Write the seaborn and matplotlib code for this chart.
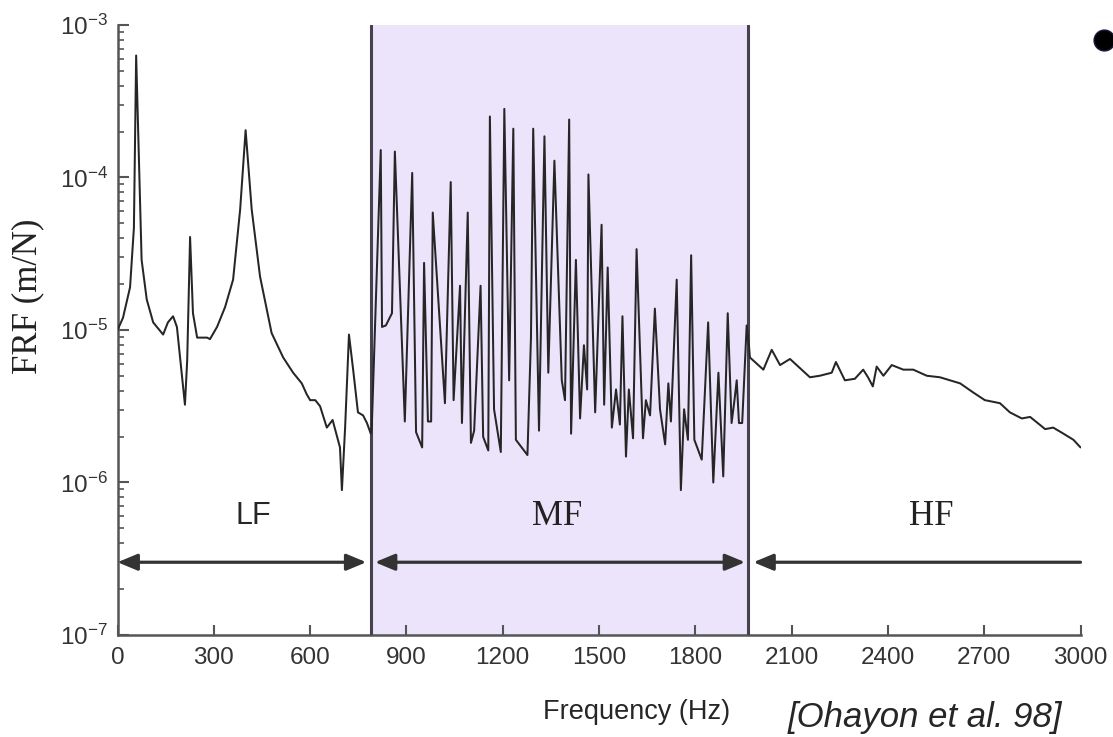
"""
FRF over frequency with LF / MF / HF bands (after Ohayon et al. 98).
"""

import numpy as np
import pandas as pd
import matplotlib
matplotlib.use("Agg")
import matplotlib.pyplot as plt
from matplotlib.lines import Line2D
from matplotlib.ticker import LogLocator, NullFormatter, FixedLocator
import seaborn as sns

# frequency (Hz) and log10 of FRF (m/N)
lf_freq = [0, 17, 39, 51, 58, 75, 91, 111, 142, 157, 173, 185, 201, 210, 217, 226,
           235, 248, 279, 288, 310, 335, 360, 382, 399, 418, 444, 480, 516, 547,
           574, 589, 600, 616, 631, 652, 670, 693, 699, 709, 721, 734, 749, 765,
           777, 789]
lf_exp = [-5.00, -4.92, -4.72, -4.33, -3.20, -4.54, -4.80, -4.95, -5.03, -4.95,
          -4.91, -4.98, -5.31, -5.49, -5.20, -4.39, -4.89, -5.05, -5.05, -5.06,
          -4.98, -4.85, -4.67, -4.21, -3.69, -4.21, -4.65, -5.02, -5.18, -5.28,
          -5.35, -5.42, -5.46, -5.46, -5.50, -5.64, -5.59, -5.77, -6.05, -5.64,
          -5.03, -5.26, -5.54, -5.56, -5.61, -5.68]

mf_freq = [792, 820, 824, 836, 855, 864, 895, 918, 930, 949, 955, 967, 977, 982,
           1020, 1038, 1047, 1067, 1073, 1091, 1101, 1111, 1131, 1139, 1155, 1160,
           1173, 1194, 1205, 1220, 1233, 1241, 1277, 1288, 1295, 1313, 1330, 1342,
           1361, 1384, 1394, 1407, 1413, 1428, 1441, 1453, 1463, 1467, 1488, 1508,
           1516, 1527, 1540, 1553, 1565, 1573, 1584, 1593, 1606, 1617, 1637, 1646,
           1659, 1674, 1690, 1706, 1716, 1724, 1742, 1755, 1765, 1777, 1787, 1797,
           1820, 1840, 1856, 1872, 1887, 1901, 1913, 1922, 1929, 1936, 1946, 1960,
           1967]
mf_exp = [-5.64, -3.82, -4.98, -4.97, -4.89, -3.83, -5.60, -3.97, -5.67, -5.77,
          -4.56, -5.60, -5.60, -4.23, -5.48, -4.03, -5.46, -4.71, -5.61, -4.23,
          -5.74, -5.66, -4.71, -5.70, -5.79, -3.60, -5.52, -5.80, -3.55, -5.33,
          -3.68, -5.72, -5.82, -5.05, -3.68, -5.66, -3.73, -5.28, -3.89, -5.33,
          -5.46, -3.62, -5.68, -4.54, -5.58, -5.10, -5.39, -3.98, -5.54, -4.31,
          -5.49, -4.59, -5.64, -5.39, -5.62, -4.91, -5.83, -5.39, -5.71, -4.47,
          -5.71, -5.46, -5.56, -4.86, -5.52, -5.75, -5.35, -5.60, -4.67, -6.05,
          -5.52, -5.72, -4.51, -5.72, -5.85, -4.95, -6.00, -5.28, -5.96, -4.89,
          -5.61, -5.46, -5.33, -5.61, -5.61, -4.97, -5.10]

hf_freq = [1970, 2012, 2038, 2064, 2095, 2126, 2157, 2188, 2225, 2238, 2266, 2297,
           2323, 2338, 2353, 2365, 2386, 2412, 2448, 2479, 2521, 2562, 2625, 2666,
           2702, 2749, 2780, 2817, 2843, 2890, 2915, 2947, 2978, 3000]
hf_exp = [-5.18, -5.26, -5.13, -5.23, -5.19, -5.25, -5.31, -5.30, -5.28, -5.21,
          -5.33, -5.32, -5.26, -5.31, -5.37, -5.24, -5.30, -5.23, -5.26, -5.26,
          -5.30, -5.31, -5.35, -5.41, -5.46, -5.48, -5.54, -5.58, -5.57, -5.65,
          -5.64, -5.68, -5.72, -5.77]

# band limits (Hz), arrow extents and label positions
band_edges = [789, 1964]
band_arrows = {"LF": (0, 775), "MF": (802, 1955), "HF": (1981, 3000)}
band_labels = {"LF": 424, "MF": 1368, "HF": 2536}
x_ticks = [0, 300, 600, 900, 1200, 1500, 1800, 2100, 2400, 2700, 3000]


def main():
    df = pd.DataFrame({
        "freq": lf_freq + mf_freq + hf_freq,
        "frf": 10.0 ** np.array(lf_exp + mf_exp + hf_exp),
    })

    sns.set_style("ticks")
    plt.rcParams["font.family"] = ["Liberation Sans", "DejaVu Sans"]
    plt.rcParams["mathtext.fontset"] = "custom"
    plt.rcParams["mathtext.rm"] = "Liberation Sans"

    fig = plt.figure(figsize=(11.13, 7.37), dpi=100)
    ax = fig.add_axes([0.1056, 0.1384, 0.8652, 0.8277])

    ax.axvspan(band_edges[0], band_edges[1], color="#ece4fb", zorder=0, lw=0)
    for xe in band_edges:
        ax.axvline(xe, color="#46414f", lw=2.2, zorder=3)

    sns.lineplot(data=df, x="freq", y="frf", ax=ax, color="#262626", lw=1.45,
                 estimator=None, zorder=4)

    ax.set_yscale("log")
    ax.set_xlim(0, 3000)
    ax.set_ylim(1e-7, 1e-3)

    # band arrows (HF only points left)
    arrow_y = 3e-7
    for name, (x0, x1) in band_arrows.items():
        style = "-|>" if name == "HF" else "<|-|>"
        ax.annotate("", xy=(x0, arrow_y), xytext=(x1, arrow_y),
                    arrowprops=dict(arrowstyle=style + ",head_length=0.6,head_width=0.25",
                                    color="#333333", lw=2.3, mutation_scale=20,
                                    shrinkA=0, shrinkB=0), zorder=5)

    label_y = 6.0e-7
    ax.text(band_labels["LF"], label_y, "LF", fontsize=22, ha="center", va="center")
    for name in ("MF", "HF"):
        ax.text(band_labels[name], label_y, name, fontsize=25, ha="center", va="center",
                family=["Liberation Serif", "DejaVu Serif"], color="#222222")

    # axes styling
    sns.despine(ax=ax)
    for side in ("left", "bottom"):
        ax.spines[side].set_color("#555555")
        ax.spines[side].set_linewidth(1.8)
    ax.xaxis.set_major_locator(FixedLocator(x_ticks))
    ax.yaxis.set_major_locator(LogLocator(base=10, numticks=10))
    ax.yaxis.set_minor_locator(LogLocator(base=10, subs=np.arange(2, 10), numticks=20))
    ax.yaxis.set_minor_formatter(NullFormatter())
    ax.tick_params(axis="x", direction="in", length=7, width=1.5, color="#555555",
                   labelsize=17.5, pad=9, labelcolor="#333333")
    ax.tick_params(axis="y", which="major", direction="in", length=8, width=1.5,
                   color="#555555", labelsize=17.5, pad=7, labelcolor="#333333")
    ax.tick_params(axis="y", which="minor", direction="in", length=4, width=1.2,
                   color="#555555")
    ax.set_xlabel("")
    ax.set_ylabel("")

    fig.text(28 / 1113, 1 - 296 / 737, "FRF (m/N)", rotation=90, fontsize=25,
             ha="center", va="center", family=["Liberation Serif", "DejaVu Serif"],
             color="#222222")
    fig.text(637 / 1113, 1 - 712 / 737, "Frequency (Hz)", fontsize=19.5,
             ha="center", va="center")
    fig.text(925 / 1113, 1 - 718 / 737, "[Ohayon et al. 98]", fontsize=25,
             style="italic", ha="center", va="center")

    # bullet mark at the top right, partly cut by the edge as in the slide
    fig.add_artist(Line2D([1104 / 1113], [1 - 40 / 737], transform=fig.transFigure,
                          marker="o", markersize=15, color="black",
                          markeredgecolor="#1a1a40"))

    fig.savefig("out.png", dpi=100)
    plt.close(fig)


if __name__ == "__main__":
    main()
